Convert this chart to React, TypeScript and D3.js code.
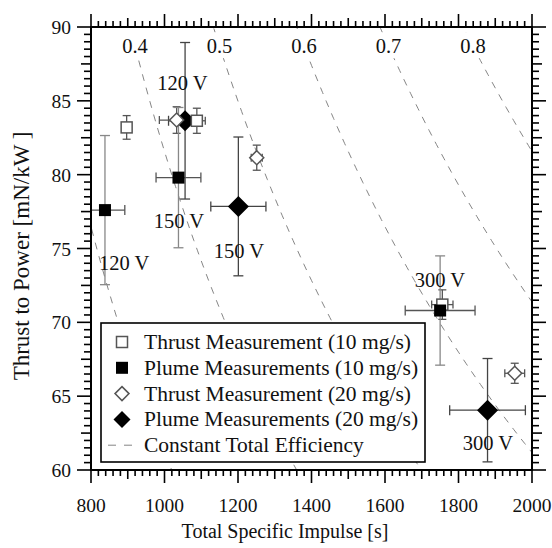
import React, { useEffect } from "react";
import * as d3 from "d3";

// ---------- data ----------
const effLevels = [0.3, 0.4, 0.5, 0.6, 0.7, 0.8];
const effLabelLevels = [0.4, 0.5, 0.6, 0.7, 0.8];
const effLabelTP = 88.7;

const thrust10Isp = [897, 1088, 1756];
const thrust10TP = [83.2, 83.65, 71.2];
const thrust10IspErr = [12, 23, 29];
const thrust10TPErr = [0.8, 0.85, 1.0];

const plume10Isp = [838, 1038, 1750];
const plume10TP = [77.6, 79.8, 70.8];
const plume10IspErr = [54, 61, 95];
const plume10TPErr = [5.05, 4.75, 3.7];

const thrust20Isp = [1033, 1251, 1953];
const thrust20TP = [83.7, 81.15, 66.55];
const thrust20IspErr = [47, 15, 27];
const thrust20TPErr = [0.9, 0.85, 0.68];

const plume20Isp = [1056, 1201, 1879];
const plume20TP = [83.65, 77.85, 64.05];
const plume20IspErr = [45, 75, 103];
const plume20TPErr = [5.3, 4.7, 3.5];

const voltText = ["120 V", "120 V", "150 V", "150 V", "300 V", "300 V"];
const voltIsp = [890, 1049, 1039.5, 1202.7, 1749.7, 1880];
const voltTP = [73.55, 85.73, 76.39, 74.36, 72.4, 61.36];

const xTicks = [800, 1000, 1200, 1400, 1600, 1800, 2000];
const yTicks = [60, 65, 70, 75, 80, 85, 90];

const legendLabels = [
  "Thrust Measurement (10 mg/s)",
  "Plume Measurements (10 mg/s)",
  "Thrust Measurement (20 mg/s)",
  "Plume Measurements (20 mg/s)",
  "Constant Total Efficiency",
];

const G0 = 9.80665;
const FONT = "'Liberation Serif', 'Times New Roman', 'DejaVu Serif', serif";

type Pt = { isp: number; tp: number; xe: number; ye: number };
const zip = (a: number[], b: number[], c: number[], d: number[]): Pt[] =>
  a.map((v, i) => ({ isp: v, tp: b[i], xe: c[i], ye: d[i] }));

export default function App() {
  useEffect(() => {
    document.body.style.margin = "0";
  }, []);

  const W = 552,
    H = 548;
  const x = d3.scaleLinear().domain([800, 2000]).range([91, 532]);
  const y = d3.scaleLinear().domain([60, 90]).range([470, 27]);
  const [x0, x1] = x.range();
  const [y0, y1] = [y(90), y(60)];

  const tpOf = (eta: number, isp: number) => (2 * eta * 1e6) / (G0 * isp);
  const ispOf = (eta: number, tp: number) => (2 * eta * 1e6) / (G0 * tp);

  const effPath = (eta: number) => {
    const pts = d3.range(700, 2101, 10).map((isp) => [x(isp), y(tpOf(eta, isp))] as [number, number]);
    return d3.line()(pts) || "";
  };

  const minorX = d3.range(800, 2001, 20);
  const minorY = d3.range(60, 90.01, 0.5);

  const tickLenX = (v: number) => (v % 200 === 0 ? 13 : v % 100 === 0 ? 9 : 6);
  const tickLenY = (v: number) => {
    const r = Math.round(v * 10);
    return r % 50 === 0 ? 14 : r % 25 === 0 ? 10 : 7;
  };

  const thrust10 = zip(thrust10Isp, thrust10TP, thrust10IspErr, thrust10TPErr);
  const plume10 = zip(plume10Isp, plume10TP, plume10IspErr, plume10TPErr);
  const thrust20 = zip(thrust20Isp, thrust20TP, thrust20IspErr, thrust20TPErr);
  const plume20 = zip(plume20Isp, plume20TP, plume20IspErr, plume20TPErr);

  const errBars = (p: Pt, cap: number, vColor: string, hColor: string, key: string) => {
    const cx = x(p.isp),
      cy = y(p.tp);
    const xl = x(p.isp - p.xe),
      xr = x(p.isp + p.xe);
    const yt = y(p.tp + p.ye),
      yb = y(p.tp - p.ye);
    return (
      <g key={key} strokeWidth={1.3} fill="none">
        <line x1={cx} x2={cx} y1={yt} y2={yb} stroke={vColor} />
        <line x1={cx - cap} x2={cx + cap} y1={yt} y2={yt} stroke={vColor} />
        <line x1={cx - cap} x2={cx + cap} y1={yb} y2={yb} stroke={vColor} />
        <line x1={xl} x2={xr} y1={cy} y2={cy} stroke={hColor} />
        <line x1={xl} x2={xl} y1={cy - cap} y2={cy + cap} stroke={hColor} />
        <line x1={xr} x2={xr} y1={cy - cap} y2={cy + cap} stroke={hColor} />
      </g>
    );
  };

  const diamond = (cx: number, cy: number, r: number) =>
    `M${cx},${cy - r}L${cx + r},${cy}L${cx},${cy + r}L${cx - r},${cy}Z`;

  const legX = 101,
    legY = 323,
    legW = 324,
    legH = 139;
  const rowY = (i: number) => 342 + i * 25.8;
  const symX = 122;

  return (
    <svg
      width={W}
      height={H}
      viewBox={`0 0 ${W} ${H}`}
      style={{ position: "absolute", left: 0, top: 0, background: "#fff" }}
      fontFamily={FONT}
    >
      <defs>
        <clipPath id="plot">
          <rect x={x0} y={y0} width={x1 - x0} height={y1 - y0} />
        </clipPath>
      </defs>
      <rect x={0} y={0} width={W} height={H} fill="#fff" />

      <g clipPath="url(#plot)">
        {/* efficiency lines */}
        {effLevels.map((e) => (
          <path key={e} d={effPath(e)} fill="none" stroke="#777" strokeWidth={0.9} strokeDasharray="7,7" />
        ))}
        {effLabelLevels.map((e) => {
          const cx = x(ispOf(e, effLabelTP));
          const cy = y(effLabelTP);
          return (
            <g key={"el" + e}>
              <rect x={cx - 15} y={cy - 14} width={30} height={26} fill="#fff" />
              <text x={cx} y={cy + 7} textAnchor="middle" fontSize={20.5} fill="#111">
                {e.toFixed(1)}
              </text>
            </g>
          );
        })}

        {/* error bars */}
        {plume20.map((p, i) => errBars(p, 5, "#444", "#444", "p20e" + i))}
        {thrust20.map((p, i) => errBars(p, 4, "#555", "#555", "t20e" + i))}
        {thrust10.map((p, i) => errBars(p, 4, "#555", "#555", "t10e" + i))}
        {plume10.map((p, i) => errBars(p, 5, "#888", "#555", "p10e" + i))}

        {/* markers */}
        {plume20.map((p, i) => (
          <path key={"p20" + i} d={diamond(x(p.isp), y(p.tp), 10.5)} fill="#000" />
        ))}
        {thrust20.map((p, i) => (
          <path
            key={"t20" + i}
            d={diamond(x(p.isp), y(p.tp), 7)}
            fill="#fff"
            stroke="#555"
            strokeWidth={1.5}
          />
        ))}
        {thrust10.map((p, i) => (
          <rect
            key={"t10" + i}
            x={x(p.isp) - 5.5}
            y={y(p.tp) - 5.5}
            width={11}
            height={11}
            fill="#fff"
            stroke="#555"
            strokeWidth={1.5}
          />
        ))}
        {plume10.map((p, i) => (
          <rect key={"p10" + i} x={x(p.isp) - 6} y={y(p.tp) - 6} width={12} height={12} fill="#000" />
        ))}

        {/* voltage labels */}
        {voltText.map((t, i) => (
          <text key={"v" + i} x={x(voltIsp[i])} y={y(voltTP[i])} textAnchor="middle" fontSize={20.5} fill="#111">
            {t}
          </text>
        ))}
      </g>

      {/* legend */}
      <g>
        <rect x={legX} y={legY} width={legW} height={legH} fill="#fff" stroke="#000" strokeWidth={1.6} />
        <rect x={symX - 5.5} y={rowY(0) - 5.5} width={11} height={11} fill="#fff" stroke="#555" strokeWidth={1.5} />
        <rect x={symX - 6} y={rowY(1) - 6} width={12} height={12} fill="#000" />
        <path d={diamond(symX, rowY(2), 7)} fill="#fff" stroke="#555" strokeWidth={1.5} />
        <path d={diamond(symX, rowY(3), 8.5)} fill="#000" />
        <line x1={108} x2={136} y1={rowY(4)} y2={rowY(4)} stroke="#777" strokeWidth={0.9} strokeDasharray="8,8" />
        {legendLabels.map((t, i) => (
          <text key={t} x={144} y={rowY(i) + 7} fontSize={21.5} fill="#111">
            {t}
          </text>
        ))}
      </g>

      {/* axes frame */}
      <g stroke="#000" fill="none">
        <rect x={x0} y={y0} width={x1 - x0} height={y1 - y0} strokeWidth={2} />
        {minorX.map((v) => (
          <g key={"xt" + v} strokeWidth={1.6}>
            <line x1={x(v)} x2={x(v)} y1={y1} y2={y1 + tickLenX(v)} />
            <line x1={x(v)} x2={x(v)} y1={y0} y2={y0 - tickLenX(v)} />
          </g>
        ))}
        {minorY.map((v) => (
          <g key={"yt" + v} strokeWidth={1.6}>
            <line x1={x0} x2={x0 - tickLenY(v)} y1={y(v)} y2={y(v)} />
            <line x1={x1} x2={x1 + tickLenY(v)} y1={y(v)} y2={y(v)} />
          </g>
        ))}
      </g>

      {/* tick labels */}
      {xTicks.map((v) => (
        <text key={"xl" + v} x={x(v)} y={512} textAnchor="middle" fontSize={19.5} fill="#111">
          {v}
        </text>
      ))}
      {yTicks.map((v) => (
        <text key={"yl" + v} x={71} y={y(v) + 7} textAnchor="end" fontSize={19.5} fill="#111">
          {v}
        </text>
      ))}

      {/* axis titles */}
      <text x={285} y={538} textAnchor="middle" fontSize={20} fill="#111">
        Total Specific Impulse [s]
      </text>
      <text transform={`translate(29,256) rotate(-90)`} textAnchor="middle" fontSize={23} fill="#111">
        Thrust to Power [mN/kW ]
      </text>
    </svg>
  );
}
